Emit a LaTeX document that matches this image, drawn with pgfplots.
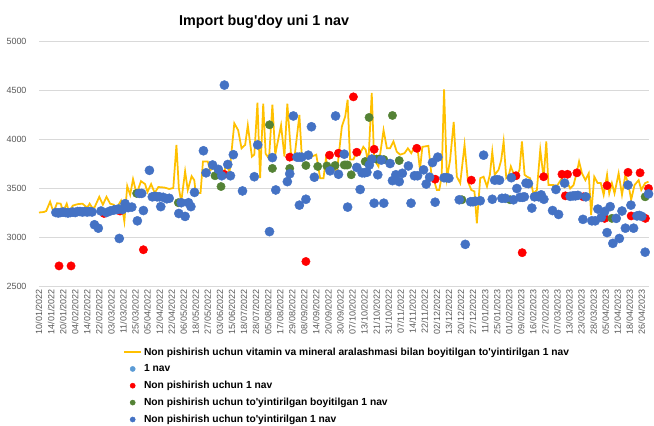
\documentclass[border=0pt]{standalone}
\usepackage{fontspec}
\setmainfont{Liberation Sans}
\usepackage{pgfplots}
\pgfplotsset{compat=1.18}
\definecolor{cline}{HTML}{FFC000}
\definecolor{cblue}{HTML}{4472C4}
\definecolor{clblue}{HTML}{5B9BD5}
\definecolor{cred}{HTML}{FF0000}
\definecolor{cgreen}{HTML}{548235}
\definecolor{cgrid}{HTML}{D9D9D9}
\definecolor{ctick}{HTML}{595959}
\begin{document}
\begin{tikzpicture}
\path[use as bounding box] (-39bp,-140bp) rectangle (615bp,286bp);
\begin{axis}[
  at={(0,0)}, anchor=south west,
  scale only axis, width=610bp, height=245bp,
  xmin=0, xmax=253, ymin=2500, ymax=5000,
  ytick={2500,3000,3500,4000,4500,5000},
  xtick={0,5,...,250},
  xticklabels={10/01/2022,14/01/2022,20/01/2022,04/02/2022,14/02/2022,22/02/2022,03/03/2022,11/03/2022,25/03/2022,05/04/2022,12/04/2022,22/04/2022,06/05/2022,18/05/2022,27/05/2022,03/06/2022,15/06/2022,18/07/2022,28/07/2022,05/08/2022,17/08/2022,29/08/2022,08/09/2022,14/09/2022,20/09/2022,30/09/2022,07/10/2022,13/10/2022,21/10/2022,31/10/2022,07/11/2022,14/11/2022,22/11/2022,02/12/2022,13/12/2022,20/12/2022,27/12/2022,11/01/2023,25/01/2023,01/02/2023,09/02/2023,16/02/2023,27/02/2023,07/03/2023,13/03/2023,23/03/2023,28/03/2023,05/04/2023,12/04/2023,18/04/2023,26/04/2023},
  ymajorgrids, major grid style={cgrid, line width=0.75bp},
  axis line style={draw=none},
  major tick length=0pt,
  clip=false,
  /pgf/number format/assume math mode=true,
  /pgf/number format/1000 sep={},
  tick label style={font=\fontsize{9}{10}\selectfont, text=ctick},
  xticklabel style={rotate=90, anchor=east},
  yticklabel style={xshift=-9bp},
  title={Import bug\textquotesingle doy uni 1 nav},
  title style={at={(0.369,1.054)}, anchor=center, yshift=0pt, font=\bfseries\fontsize{14.4}{16}\selectfont},
  legend style={at={(0.133,-0.235)}, anchor=north west, draw=none, fill=none, font=\bfseries\fontsize{10.3}{12}\selectfont, row sep=4bp},
  legend cell align=left,
]
% yellow line
\addplot[color=cline, line width=1.75bp, mark=none] table {
0 3250
2 3255
3 3265
4.6 3360
6 3255
7.5 3345
9 3340
10 3260
11.5 3340
12.5 3250
14 3320
16 3335
18 3340
19 3320
20 3300
21 3340
22 3300
23 3300
25 3410
26.5 3330
28 3410
29.5 3340
31 3330
32 3290
34 3370
35.4 3160
36.6 3520
37.8 3430
39 3590
40.5 3440
42.3 3570
44 3540
45 3460
46.5 3540
48 3450
49.5 3510
52 3505
54 3490
55.7 3500
57 3940
58 3500
59 3360
60.6 3670
61.7 3480
63.3 3620
64.4 3580
65 3450
67 3450
68 3770
70 3770
71 3680
72 3700
74 3700
76 3620
78 3750
79 3650
81 4160
82.6 4090
84 3905
85.5 3940
86.6 4140
88.3 3820
89.3 3840
90.6 4370
91.7 3600
93 4360
94 3850
95.4 3800
96.8 4350
98 3840
98.6 3920
100.4 4140
101.8 3820
103 4360
104.6 3820
106 3820
108 4245
109 3820
111 3820
113 3820
115 3840
116.6 3600
118 3600
119 3800
120 3685
122 3720
123.5 3650
125.6 4125
127 4230
128 4400
129 3790
130.4 3790
131.8 3870
133 3840
134.5 3920
135.5 3890
136.6 3750
138 4470
139 3790
140.8 3720
142.9 4090
144.3 3905
145.6 3905
147 3975
148.4 3870
149.8 3840
151.6 3855
153 3905
154.4 3855
155.7 3920
157 3905
158 3685
159 3920
161.5 3930
162.7 3650
164 3565
165 3480
166 3480
167 3615
168 4505
169.2 3600
170.5 3785
172 4175
173.3 3615
174.7 3550
176.5 3940
177.9 3565
179.3 3480
180.6 3465
181.6 3140
183 3600
184.4 3615
185.8 3515
187 3635
188 3870
189 3635
190.6 3685
191.7 3785
192.7 3975
193.8 3600
194.7 3615
195.7 3720
197 3635
198.2 3635
199.3 3685
200.3 3975
201.4 3635
202.4 3615
203.7 3600
205 3445
206.5 3480
207.9 3890
209.3 3600
210.4 3975
211.3 3530
213.4 3530
214.8 3520
216.9 3600
218 3515
219 3565
220.3 3495
221.7 3530
223.1 3665
224 3770
225.2 3650
226.6 3580
228 3650
229 3225
230.3 3615
231.7 3550
233 3550
234.2 3430
235.6 3635
236.5 3445
237.6 3550
238.7 3445
240.4 3650
241.8 3430
243.2 3635
244.5 3530
245.6 3380
247 3530
248.7 3580
249.8 3480
251.4 3550
252.8 3565
};
\addlegendentry{Non pishirish uchun vitamin va mineral aralashmasi bilan boyitilgan to\textquotesingle yintirilgan 1 nav}
\addlegendimage{only marks, mark=*, color=clblue, mark size=2.6bp}
\addlegendentry{1 nav}
% red
\addplot[only marks, mark=*, color=cred, mark size=4.2bp, legend image post style={mark size=2.6bp}] table {
8.3 2705
13.3 2705
27 3240
33.6 3265
43.3 2870
76.8 3640
104 3815
110.7 2750
120.5 3835
124.2 3855
130.4 4430
131.8 3865
139 3895
156.7 3905
164.3 3590
179.3 3580
197.8 3625
200.4 2840
209.3 3615
216.9 3640
219.2 3640
218.3 3420
223.1 3655
225.8 3410
234.6 3190
235.6 3525
244.3 3660
245.6 3215
249.3 3655
251.5 3190
252.8 3495
};
\addlegendentry{Non pishirish uchun 1 nav}
% green
\addplot[only marks, mark=*, color=cgreen, mark size=4.2bp, legend image post style={mark size=2.6bp}] table {
40.5 3445
57.8 3350
73 3625
75.5 3515
95.6 4145
96.8 3700
104 3700
110.7 3730
115.6 3720
119.4 3725
122.8 3730
126.6 3735
127.3 3735
128 3735
129.5 3635
135.3 3770
136.9 4220
140 3795
141 3795
143 3790
146.6 4240
149.4 3780
175.4 3380
195.4 3380
237.6 3190
251.4 3410
};
\addlegendentry{Non pishirish uchun to\textquotesingle yintirilgan boyitilgan 1 nav}
% blue
\addplot[only marks, mark=*, color=cblue, mark size=4.6bp, legend image post style={mark size=2.6bp}] table {
7 3250
8 3245
9 3250
10 3255
11 3250
12 3245
13 3250
14 3255
15 3250
16 3260
17 3260
18 3255
19 3260
20 3255
21 3260
22 3255
23 3125
24.6 3090
25.7 3265
28 3250
29.5 3265
31 3275
32 3280
33 3285
33.3 2985
34.6 3280
35.7 3340
37 3300
38.5 3305
40.8 3165
41.6 3445
42.6 3445
43.3 3270
45.8 3680
47 3410
48 3415
49 3410
50 3410
50.5 3310
51.5 3405
53 3390
54 3395
58 3240
60.6 3210
59 3350
62 3350
63 3310
64.5 3455
68.2 3880
69.3 3655
72 3735
74.4 3690
75.8 3625
76.9 4550
78.3 3740
79.4 3625
80.6 3840
84.4 3470
89.3 3615
90.7 3940
95.6 3055
96.8 3810
98.2 3480
103 3565
104 3645
105.5 4235
107 3815
108 3815
109 3815
111.7 3835
108 3325
110.7 3385
113 4125
114.2 3610
120.7 3675
123 4235
124.2 3640
126.6 3845
128 3305
131.8 3710
133.2 3485
134 3655
135 3655
136 3660
137 3735
138 3795
139 3345
140.5 3635
142 3785
143 3345
145.6 3750
146.6 3575
148 3635
149.4 3565
150.7 3650
153.2 3725
154.3 3345
155.7 3625
157 3625
159.5 3685
160.6 3540
162 3610
163.2 3760
165.4 3815
164.3 3355
168 3605
169 3605
170 3600
174.3 3380
176.8 2925
179 3360
180 3360
181 3365
183 3370
184.4 3835
188 3385
189 3580
190 3585
191 3580
192 3395
193.4 3395
195.9 3605
196.8 3380
198.2 3495
199.5 3405
200.5 3405
201.3 3410
202 3550
203 3545
204.4 3295
205.5 3410
206.5 3415
207.3 3410
208.3 3430
209.4 3385
213 3270
215.5 3230
214.4 3485
218 3550
220.3 3415
221.5 3420
222.5 3420
223.5 3425
225.6 3180
226.8 3410
229.3 3165
230.7 3165
231.8 3285
233.2 3200
234.6 3260
235.6 3045
236.9 3310
238 2935
239.4 3190
240.7 2985
241.8 3265
243.2 3090
244.3 3530
245.5 3325
246.6 3090
248 3215
249 3220
250 3210
251.4 2845
252.8 3440
};
\addlegendentry{Non pishirish uchun to\textquotesingle yintirilgan 1 nav}
\end{axis}
\end{tikzpicture}
\end{document}
